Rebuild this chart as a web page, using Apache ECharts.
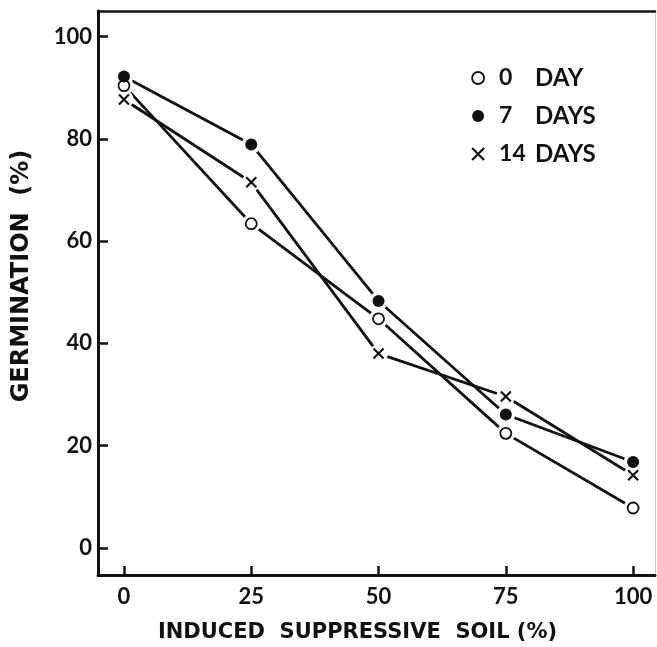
<!DOCTYPE html>
<html>
<head>
<meta charset="utf-8">
<script src="https://cdn.jsdelivr.net/npm/echarts@6/dist/echarts.min.js"></script>
<style>
html,body{margin:0;padding:0;background:#fff;}
#chart{width:657px;height:647px;}
</style>
</head>
<body>
<div id="chart"></div>
<script>
var xValues = [0, 25, 50, 75, 100];
var day0 = [90.4, 63.4, 44.8, 22.4, 7.8];
var day7 = [92.2, 78.9, 48.3, 26.1, 16.8];
var day14 = [87.7, 71.5, 38.0, 29.6, 14.2];
var seriesNames = ['0 DAY', '7 DAYS', '14 DAYS'];
var xTicks = [0, 25, 50, 75, 100];
var yTicks = [0, 20, 40, 60, 80, 100];

var INK = '#111111';
var FONT = 'Lato';
var NAMEFONT = 'DejaVu Sans';
var WEIGHT = 'bold';
var crossPath = 'path://M0,0L10,10M10,0L0,10';

function pairs(vals) { return xValues.map(function (x, i) { return [x, vals[i]]; }); }

var markerStyles = [
  { symbol: 'circle', size: 11, itemStyle: { color: '#fff', borderColor: INK, borderWidth: 1.8, opacity: 1 } },
  { symbol: 'circle', size: 12, itemStyle: { color: INK, borderColor: INK, borderWidth: 0, opacity: 1 } },
  { symbol: crossPath, size: 10, itemStyle: { color: 'transparent', borderColor: INK, borderWidth: 2.2, opacity: 1 } }
];
var allData = [day0, day7, day14];

var series = [];
allData.forEach(function (vals, i) {
  series.push({
    type: 'line', name: 'line' + i, data: pairs(vals), symbol: 'none', z: 2,
    lineStyle: { color: INK, width: 2.8 }, silent: true, animation: false
  });
});
allData.forEach(function (vals, i) {
  series.push({
    type: 'scatter', name: 'halo' + i, data: pairs(vals), symbol: 'circle', symbolSize: 19, z: 3,
    itemStyle: { color: '#fff', opacity: 1 }, silent: true, animation: false
  });
});
allData.forEach(function (vals, i) {
  var m = markerStyles[i];
  series.push({
    type: 'scatter', name: seriesNames[i], data: pairs(vals), symbol: m.symbol, symbolSize: m.size, z: 4,
    itemStyle: m.itemStyle, animation: false
  });
});

var chart = echarts.init(document.getElementById('chart'), null, { renderer: 'canvas' });
chart.setOption({
  backgroundColor: '#fff',
  animation: false,
  textStyle: { fontFamily: FONT, color: INK, fontWeight: WEIGHT },
  grid: { left: 98, top: 11, right: 2, bottom: 72, containLabel: false, outerBoundsMode: 'none' },
  legend: {
    orient: 'vertical', left: 466, top: 61, itemGap: 14,
    itemWidth: 12, itemHeight: 12,
    data: seriesNames.map(function (n, i) {
      var m = markerStyles[i];
      return { name: n, icon: m.symbol, itemStyle: m.itemStyle };
    }),
    formatter: function (name) {
      var k = name.indexOf(' ');
      return '{n|' + name.slice(0, k) + '}{w|' + name.slice(k + 1) + '}';
    },
    textStyle: {
      fontFamily: FONT, fontSize: 23, color: INK, fontWeight: WEIGHT,
      rich: {
        n: { fontFamily: FONT, fontSize: 23, color: INK, fontWeight: WEIGHT, width: 36, padding: [0, 0, 0, 10] },
        w: { fontFamily: FONT, fontSize: 24, color: INK, fontWeight: WEIGHT }
      }
    }
  },
  xAxis: [{
    type: 'value', min: -5.1, max: 104.3,
    name: 'INDUCED  SUPPRESSIVE  SOIL (%)', nameLocation: 'middle', nameGap: 47,
    nameTextStyle: { fontFamily: NAMEFONT, fontSize: 21, color: INK, fontWeight: WEIGHT, padding: [0, 38, 0, 0] },
    axisLine: { show: true, onZero: false, lineStyle: { color: INK, width: 3 } },
    axisTick: { show: true, inside: true, length: 9, lineStyle: { color: INK, width: 2.5 }, customValues: xTicks },
    axisLabel: { fontFamily: FONT, fontSize: 22, color: INK, fontWeight: WEIGHT, margin: 11, customValues: xTicks },
    splitLine: { show: false }
  }, {
    type: 'value', position: 'top', min: -5.1, max: 104.3,
    axisLine: { show: true, onZero: false, lineStyle: { color: INK, width: 2.5 } },
    axisTick: { show: false }, axisLabel: { show: false }, splitLine: { show: false }
  }],
  yAxis: [{
    type: 'value', min: -5.3, max: 105,
    name: 'GERMINATION  (%)', nameLocation: 'middle', nameGap: 64, nameRotate: 90,
    nameTextStyle: { fontFamily: NAMEFONT, fontSize: 24, color: INK, fontWeight: WEIGHT, padding: [0, 0, 0, 34] },
    axisLine: { show: true, onZero: false, lineStyle: { color: INK, width: 3 } },
    axisTick: { show: true, inside: true, length: 10, lineStyle: { color: INK, width: 2.5 }, customValues: yTicks },
    axisLabel: { fontFamily: FONT, fontSize: 22, color: INK, fontWeight: WEIGHT, margin: 6, customValues: yTicks },
    splitLine: { show: false }
  }, {
    type: 'value', position: 'right', min: -5.3, max: 105,
    axisLine: { show: true, onZero: false, lineStyle: { color: '#c8c8c8', width: 1 } },
    axisTick: { show: false }, axisLabel: { show: false }, splitLine: { show: false }
  }],
  series: series
});
</script>
</body>
</html>
